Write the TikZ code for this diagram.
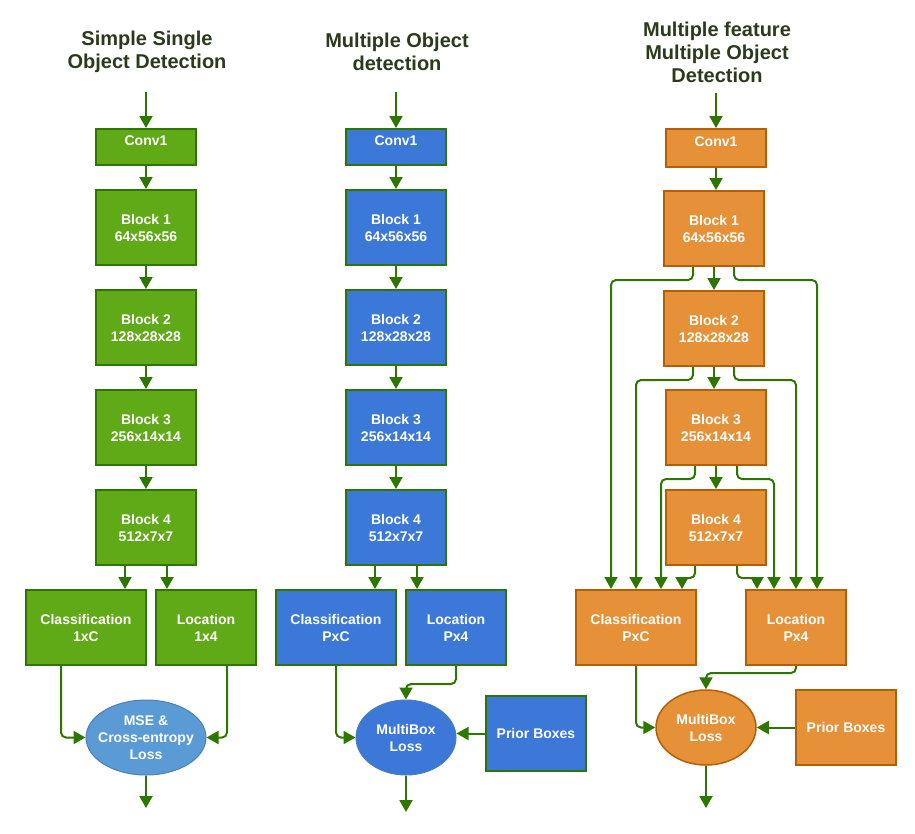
\documentclass[tikz,border=0pt]{standalone}
\usepackage{fontspec}
\setmainfont{Liberation Sans}
\usetikzlibrary{arrows.meta,shapes.geometric}

\definecolor{grfill}{HTML}{60A917}
\definecolor{grline}{HTML}{2D7600}
\definecolor{blfill}{HTML}{3C78D8}
\definecolor{blline}{HTML}{4A7EBF}
\definecolor{ltblue}{HTML}{5B9BD5}
\definecolor{orfill}{HTML}{E69138}
\definecolor{orline}{HTML}{B45F06}
\definecolor{titlec}{HTML}{2B3A1B}

\begin{document}
\begin{tikzpicture}[x=1pt,y=-1pt,>={Triangle[width=13pt,length=12pt]},
      box/.style={rectangle,draw,line width=2pt,minimum width=100pt,minimum height=75pt,inner sep=0pt,
        align=center,text=white,font=\fontsize{14}{17}\selectfont\bfseries},
      conv/.style={box,minimum height=36pt,text height=10pt,text depth=14pt},
      loss/.style={ellipse,draw,line width=1pt,minimum width=100pt,minimum height=75pt,inner sep=-8pt,
        align=center,text=white,font=\fontsize{14}{17}\selectfont\bfseries},
      green box/.style={fill=grfill,draw=grline},
      blue box/.style={fill=blfill,draw=grline},
      orange box/.style={fill=orfill,draw=orline},
      title/.style={align=center,text=titlec,font=\fontsize{20}{23}\selectfont\bfseries},
      link/.style={->,color=grline,line width=2pt,rounded corners=5pt}]

      \useasboundingbox (0,0) rectangle (915,833);

      \node[title] (sTitle) at (147,51.5) {Simple Single\\Object Detection};
      \node[title] (mTitle) at (397,51.5) {Multiple Object\\detection};
      \node[title] (fTitle) at (717,52) {Multiple feature\\Multiple Object\\Detection};

      \node[conv,green box] (sConv) at (146,147) {Conv1};
      \node[box,green box] (sB1) at (146,227.5) {Block 1\\64x56x56};
      \node[box,green box] (sB2) at (146,327.5) {Block 2\\128x28x28};
      \node[box,green box] (sB3) at (146,427.5) {Block 3\\256x14x14};
      \node[box,green box] (sB4) at (146,527.5) {Block 4\\512x7x7};
      \node[box,green box,minimum width=120pt] (sCls) at (86,627.5) {Classification\\1xC};
      \node[box,green box] (sLoc) at (206,627.5) {Location\\1x4};
      \node[loss,fill=ltblue,draw=blline,minimum width=120pt] (sLoss) at (146,737.5) {MSE \&\\Cross-entropy\\Loss};
      \coordinate (sIn) at (146,92);
      \coordinate (sOut) at (146,808);

      \node[conv,blue box] (mConv) at (396,147) {Conv1};
      \node[box,blue box] (mB1) at (396,227.5) {Block 1\\64x56x56};
      \node[box,blue box] (mB2) at (396,327.5) {Block 2\\128x28x28};
      \node[box,blue box] (mB3) at (396,427.5) {Block 3\\256x14x14};
      \node[box,blue box] (mB4) at (396,527.5) {Block 4\\512x7x7};
      \node[box,blue box,minimum width=120pt] (mCls) at (336,627.5) {Classification\\PxC};
      \node[box,blue box] (mLoc) at (456,627.5) {Location\\Px4};
      \node[loss,fill=blfill,draw=blline] (mLoss) at (406,737.5) {MultiBox\\Loss};
      \node[box,blue box] (mPrior) at (536,733.5) {Prior Boxes};
      \coordinate (mIn) at (396,92);
      \coordinate (mOut) at (406,812);

      \node[conv,orange box,minimum height=38pt] (fConv) at (716,148) {Conv1};
      \node[box,orange box] (fB1) at (714,228.5) {Block 1\\64x56x56};
      \node[box,orange box] (fB2) at (714,328.5) {Block 2\\128x28x28};
      \node[box,orange box] (fB3) at (716,427.5) {Block 3\\256x14x14};
      \node[box,orange box] (fB4) at (716,527.5) {Block 4\\512x7x7};
      \node[box,orange box,minimum width=120pt] (fCls) at (636,627.5) {Classification\\PxC};
      \node[box,orange box] (fLoc) at (796,627.5) {Location\\Px4};
      \node[loss,fill=orfill,draw=orline,line width=1.5pt] (fLoss) at (706,727.5) {MultiBox\\Loss};
      \node[box,orange box] (fPrior) at (846,727.5) {Prior Boxes};
      \coordinate (fIn) at (716,93);
      \coordinate (fOut) at (706,808);

      \path[link]
        (sIn) edge (sConv)
        (sConv) edge (sB1)
        (sB1) edge (sB2)
        (sB2) edge (sB3)
        (sB3) edge (sB4)
        (sLoss) edge (sOut)
        (mIn) edge (mConv)
        (mConv) edge (mB1)
        (mB1) edge (mB2)
        (mB2) edge (mB3)
        (mB3) edge (mB4)
        (mPrior.west) edge (mPrior.west -| mLoss.east)
        (mLoss) edge (mOut)
        (fIn) edge (fConv)
        (fPrior) edge (fLoss)
        (fLoss) edge (fOut);

      \draw[link] ([xshift=-21pt]sB4.south) -- ([xshift=-21pt]sB4.south |- sCls.north);
      \draw[link] ([xshift=21pt]sB4.south) -- ([xshift=21pt]sB4.south |- sLoc.north);
      \draw[link] ([xshift=-25pt]sCls.south) |- (sLoss.west);
      \draw[link] ([xshift=21pt]sLoc.south) |- (sLoss.east);

      \draw[link] ([xshift=-21pt]mB4.south) -- ([xshift=-21pt]mB4.south |- mCls.north);
      \draw[link] ([xshift=21pt]mB4.south) -- ([xshift=21pt]mB4.south |- mLoc.north);
      \draw[link] (mCls.south) |- (mLoss.west);
      \draw[link] (mLoc.south) -- ++(0,18) -| (mLoss.north);

      \draw[link] (fConv.south) -- (fConv.south |- fB1.north);
      \draw[link] (fB1.south) -- (fB1.south |- fB2.north);
      \draw[link] (fB2.south) -- (fB2.south |- fB3.north);
      \draw[link] (fB3.south) -- (fB3.south |- fB4.north);
      \draw[link] ([xshift=-21pt]fB1.south) -- ++(0,13) -| ([xshift=-25pt]fCls.north);
      \draw[link] ([xshift=20pt]fB1.south) -- ++(0,13) -| ([xshift=21pt]fLoc.north);
      \draw[link] ([xshift=-21pt]fB2.south) -- ++(0,13) -| (fCls.north);
      \draw[link] ([xshift=20pt]fB2.south) -- ++(0,13) -| (fLoc.north);
      \draw[link] ([xshift=-21pt]fB3.south) -- ++(0,13) -| ([xshift=25pt]fCls.north);
      \draw[link] ([xshift=21pt]fB3.south) -- ++(0,13) -| ([xshift=-22pt]fLoc.north);
      \draw[link] ([xshift=-21pt]fB4.south) -- ++(0,12) -| ([xshift=46pt]fCls.north);
      \draw[link] ([xshift=21pt]fB4.south) -- ++(0,12) -| ([xshift=-39pt]fLoc.north);
      \draw[link] (fCls.south) |- (fLoss.west);
      \draw[link] (fLoc.south) -- ++(0,7) -| (fLoss.north);
    \end{tikzpicture}
\end{document}
